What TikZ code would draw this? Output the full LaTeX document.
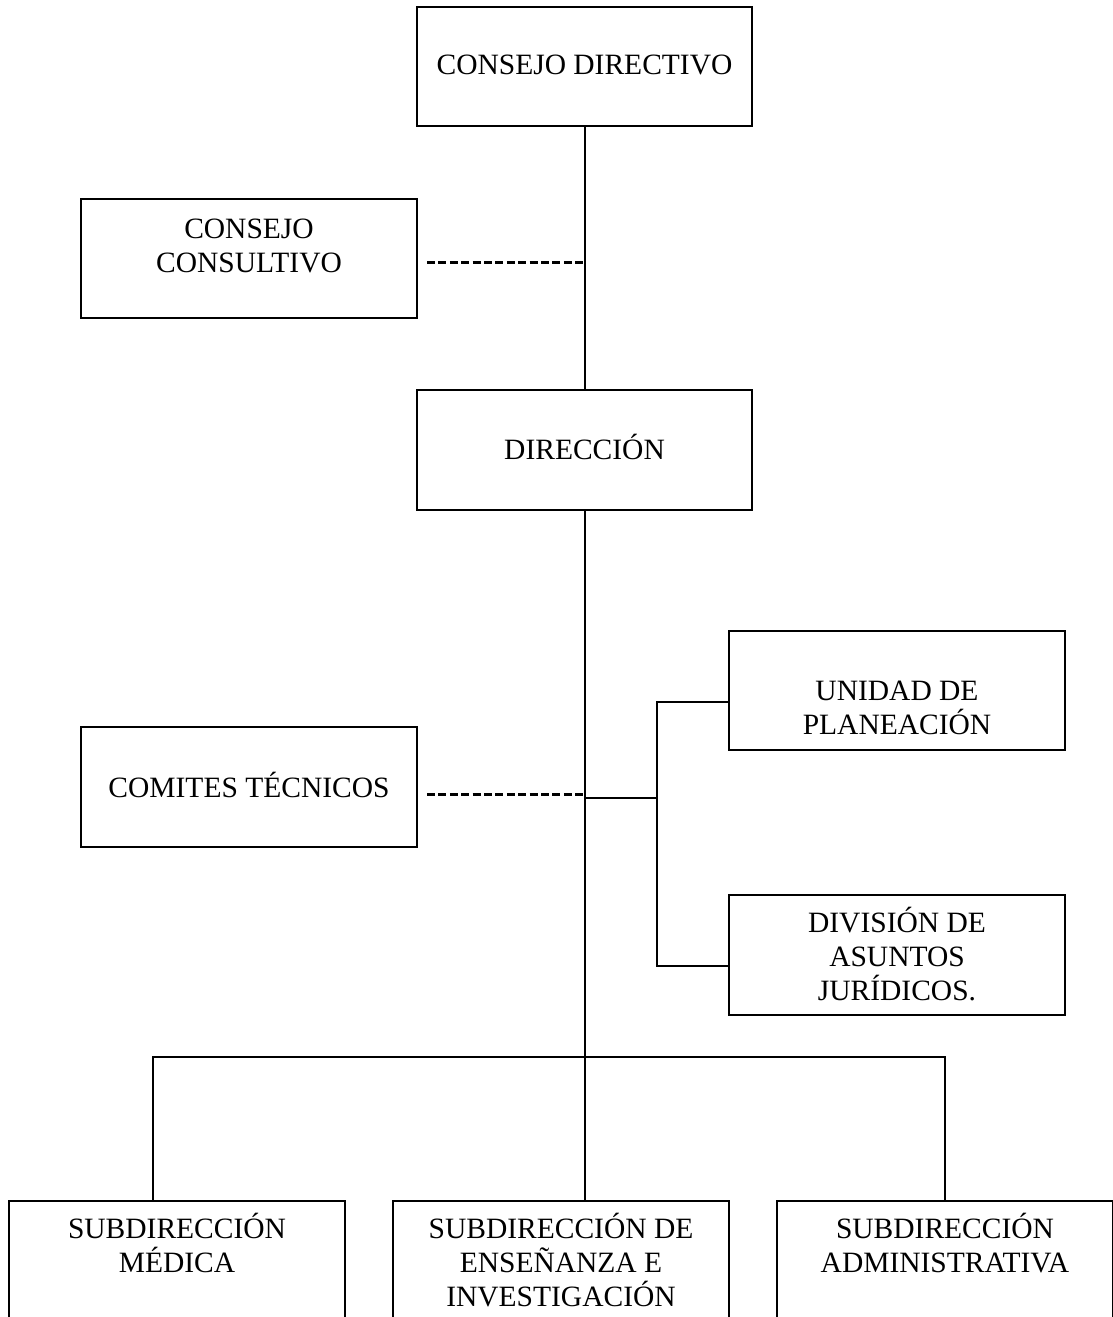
\documentclass[tikz,border=0pt]{standalone}
\usepackage{fontspec}
\setmainfont{Liberation Serif}
\newcommand\lblstrut{\rule{0pt}{28pt}}
\begin{document}
\begin{tikzpicture}[x=1pt,y=-1pt,
  box/.style={draw, line width=2pt, minimum width=336pt, minimum height=120pt, inner sep=0pt},
  lbl/.style={anchor=north, align=center, inner sep=0pt, font=\fontsize{29.5}{34}\selectfont},
  link/.style={line width=2pt},
  advisory/.style={line width=3pt, dash pattern=on 8pt off 3.4pt}]
\useasboundingbox (0,0) rectangle (1113,1317);
\clip (0,0) rectangle (1113,1317);

% boxes
\node[box, minimum width=335pt, minimum height=119pt] (cd) at (584.5,66.5) {};
\node[box, minimum height=119pt] (cc) at (249,258.5) {};
\node[box, minimum width=335pt] (dir) at (584.5,450) {};
\node[box, minimum height=119pt] (up) at (897,690.5) {};
\node[box] (ct) at (249,787) {};
\node[box] (dj) at (897,955) {};
\node[box, minimum height=140pt] (sm) at (177,1271) {};
\node[box, minimum height=140pt] (se) at (561,1271) {};
\node[box, minimum height=140pt] (sa) at (945,1271) {};

% labels
\node[lbl] (cd-t) at (584.5,46) {\lblstrut CONSEJO DIRECTIVO};
\node[lbl] (cc-t) at (249,210) {\lblstrut CONSEJO\\CONSULTIVO};
\node[lbl] (dir-t) at (584.5,431) {\lblstrut DIRECCIÓN};
\node[lbl] (up-t) at (897,672) {\lblstrut UNIDAD DE\\PLANEACIÓN};
\node[lbl] (ct-t) at (249,769) {\lblstrut COMITES TÉCNICOS};
\node[lbl] (dj-t) at (897,904) {\lblstrut DIVISIÓN DE\\ASUNTOS\\JURÍDICOS.};
\node[lbl] (sm-t) at (177,1210) {\lblstrut SUBDIRECCIÓN\\MÉDICA};
\node[lbl] (se-t) at (561,1210) {\lblstrut SUBDIRECCIÓN DE\\ENSEÑANZA E\\INVESTIGACIÓN};
\node[lbl] (sa-t) at (945,1210) {\lblstrut SUBDIRECCIÓN\\ADMINISTRATIVA};

% junction points
\coordinate (cc-end) at (427,262);
\coordinate (cc-hub) at (585,262);
\coordinate (ct-end) at (427,794);
\coordinate (ct-hub) at (585,794);
\coordinate (staff-hub) at (585,798);
\coordinate (staff-bus) at (656.5,798);
\coordinate (up-in) at (656.5,702);
\coordinate (dj-in) at (656.5,966);
\coordinate (bus) at (585,1057);
\coordinate (sm-top) at (153,1201);
\coordinate (sa-top) at (945,1201);

% line of authority
\draw[link] (cd.south -| cc-hub) -- (dir.north -| cc-hub);
\draw[link] (dir.south -| bus) -- (se.north -| bus);
\draw[link] (sm-top) |- (bus) -| (sa-top);

% advisory bodies
\draw[advisory] (cc-end) -- (cc-hub);
\draw[advisory] (ct-end) -- (ct-hub);

% staff units
\draw[link] (staff-hub) -- (staff-bus);
\draw[link] (up.west |- up-in) -- (up-in) -- (dj-in) -- (dj.west |- dj-in);
\end{tikzpicture}
\end{document}
